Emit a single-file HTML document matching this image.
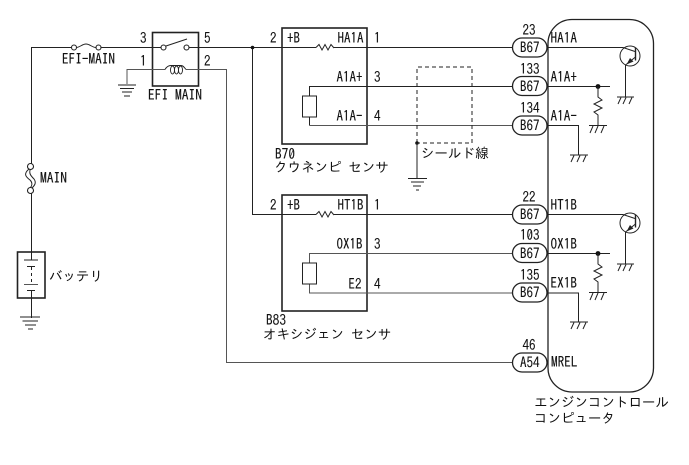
<!DOCTYPE html>
<html><head><meta charset="utf-8"><style>
html,body{margin:0;padding:0;background:#fff}
svg{display:block}
text{font-family:"IPAGothic","Liberation Mono","Noto Sans CJK JP",monospace;font-size:14.5px;fill:#111;stroke:#111;stroke-width:.12}
text.k{font-size:13.5px;stroke-width:0}
.l{stroke:#222;stroke-width:1;fill:none}
.g{stroke:#555;stroke-width:1;fill:none}
.b{stroke:#222;stroke-width:1.6;fill:none}
.c{stroke:#222;stroke-width:1.1;fill:#fff}
.m{text-anchor:middle}
</style></head><body>
<svg width="689" height="465" viewBox="0 0 689 465" xmlns="http://www.w3.org/2000/svg">
<rect width="689" height="465" fill="#fff"/>
<!-- ECU -->
<rect x="548" y="19.500" width="105.500" height="372.500" rx="24" fill="none" stroke="#222" stroke-width="1.300"/>
<!-- main supply -->
<path class="l" d="M31.500 166V47.500H72M100 47.500H161M189 47.500H316M252.500 47.500V214.500H316M334 47.500H512M334 214.500H512M31.500 192V252"/>
<path class="l" d="M76 47.500C80 47.500 82 44 86 44C90 44 92 47.500 96 47.500"/>
<circle cx="74" cy="47.500" r="2.500" class="c"/><circle cx="98.500" cy="47.500" r="2.500" class="c"/>
<text x="62" y="64" textLength="53" lengthAdjust="spacingAndGlyphs">EFI-MAIN</text>
<!-- relay -->
<rect x="152.500" y="32.500" width="46" height="53.500" class="b"/>
<path class="g" d="M127 84V69.500H165M186 69.500H226.500V362.500H512"/>
<path class="l" d="M165 69.500C167 66 169 65.500 171 65.500H181C183 65.500 184 67 186 69.500"/>
<ellipse cx="172.500" cy="70" rx="2" ry="4" fill="none" stroke="#222" stroke-width=".9"/>
<ellipse cx="176.500" cy="70" rx="2" ry="4" fill="none" stroke="#222" stroke-width=".9"/>
<ellipse cx="180.500" cy="70" rx="2" ry="4" fill="none" stroke="#222" stroke-width=".9"/>
<path class="l" d="M166 46L187 39"/>
<circle cx="163.500" cy="47.500" r="2.500" class="c"/><circle cx="186.500" cy="47.500" r="2.500" class="c"/>
<path class="l" d="M118 85H136M120 88.500H134M122 92H132M124 96H130"/>
<text x="140" y="43" textLength="6.500" lengthAdjust="spacingAndGlyphs">3</text><text x="204" y="43" textLength="6.500" lengthAdjust="spacingAndGlyphs">5</text><text x="140" y="66" textLength="6.500" lengthAdjust="spacingAndGlyphs">1</text><text x="204" y="66" textLength="6.500" lengthAdjust="spacingAndGlyphs">2</text>
<text x="148" y="100" textLength="54" lengthAdjust="spacingAndGlyphs">EFI MAIN</text>
<circle cx="252.500" cy="47.500" r="1.800" fill="#111"/>
<!-- main fuse -->
<path d="M29 169C23 174 26 177 30 180C33 183 32 186 30 188" stroke="#222" stroke-width="1" fill="none"/>
<path d="M31 168C28 173 31 176 34 179C37 183 34 186 32 188" stroke="#222" stroke-width="1" fill="none"/>
<circle cx="30.500" cy="166.500" r="3" class="c"/><circle cx="30.500" cy="190.500" r="3" class="c"/>
<text x="40" y="183" textLength="27" lengthAdjust="spacingAndGlyphs">MAIN</text>
<!-- battery -->
<rect x="17.500" y="252" width="27.500" height="46" class="b"/>
<path class="l" d="M31.500 252V260M24 260H38M27 266.500H35M31.500 290V318M27 290.500H35M20 317H40M22.500 321H38M25 325H36M28 329H33"/>
<path class="l" d="M31.500 267V284" stroke-dasharray="3 3"/>
<path class="g" d="M24 284.500H38"/>
<text class="k" x="49" y="281">バッテリ</text>
<!-- B70 -->
<rect x="282" y="28" width="85" height="116" class="b"/>
<path class="l" d="M316 47.500L319 44.500L322 50L325 44.500L328 50L331 44.500L334 48" stroke-width=".9"/>
<path class="l" d="M309.500 96V86.500H512M309.500 117V125.500"/>
<path class="g" d="M309.500 125.500H512"/>
<rect x="302.500" y="96" width="14" height="21" class="l"/>
<text x="270" y="43" textLength="6.500" lengthAdjust="spacingAndGlyphs">2</text><text x="287" y="43" textLength="13" lengthAdjust="spacingAndGlyphs">+B</text>
<text x="337.500" y="43" textLength="26" lengthAdjust="spacingAndGlyphs">HA1A</text><text x="374" y="43" textLength="6.500" lengthAdjust="spacingAndGlyphs">1</text>
<text x="336.500" y="82" textLength="26" lengthAdjust="spacingAndGlyphs">A1A+</text><text x="374" y="82" textLength="6.500" lengthAdjust="spacingAndGlyphs">3</text>
<text x="336.500" y="121" textLength="26" lengthAdjust="spacingAndGlyphs">A1A-</text><text x="374" y="121" textLength="6.500" lengthAdjust="spacingAndGlyphs">4</text>
<text x="275" y="159" textLength="20" lengthAdjust="spacingAndGlyphs">B70</text>
<text class="k" x="274" y="172">クウネンピ センサ</text>
<path d="M417 143V67H472V143H417" class="l" stroke-dasharray="4 3"/>
<circle cx="417" cy="143" r="1.800" fill="#111"/>
<path class="l" d="M417 143V178M408 178.500H427M411 182H424M413 186H421M416 190H419"/>
<text class="k" x="421" y="158">シールド線</text>
<!-- B83 -->
<rect x="282" y="195" width="85" height="116" class="b"/>
<path class="l" d="M316 214.500L319 211.500L322 217L325 211.500L328 217L331 211.500L334 215" stroke-width=".9"/>
<path class="g" d="M309.500 263V253.500H512M309.500 284V293H512"/>
<rect x="302.500" y="263" width="14" height="21" class="l"/>
<text x="270" y="210" textLength="6.500" lengthAdjust="spacingAndGlyphs">2</text><text x="287" y="210" textLength="13" lengthAdjust="spacingAndGlyphs">+B</text>
<text x="337.500" y="210" textLength="26" lengthAdjust="spacingAndGlyphs">HT1B</text><text x="374" y="210" textLength="6.500" lengthAdjust="spacingAndGlyphs">1</text>
<text x="336.500" y="249" textLength="26" lengthAdjust="spacingAndGlyphs">OX1B</text><text x="374" y="249" textLength="6.500" lengthAdjust="spacingAndGlyphs">3</text>
<text x="348.500" y="289" textLength="13" lengthAdjust="spacingAndGlyphs">E2</text><text x="374" y="289" textLength="6.500" lengthAdjust="spacingAndGlyphs">4</text>
<text x="266" y="325" textLength="20" lengthAdjust="spacingAndGlyphs">B83</text>
<text class="k" x="263" y="339">オキシジェン センサ</text>
<!-- pills -->
<g>
<rect x="512.500" y="38" width="34.500" height="19" rx="9.500" class="c" style="stroke-width:1.300"/>
<rect x="512.500" y="76.500" width="34.500" height="19" rx="9.500" class="c" style="stroke-width:1.300"/>
<rect x="512.500" y="116" width="34.500" height="19" rx="9.500" class="c" style="stroke-width:1.300"/>
<rect x="512.500" y="205" width="34.500" height="19" rx="9.500" class="c" style="stroke-width:1.300"/>
<rect x="512.500" y="243.500" width="34.500" height="19" rx="9.500" class="c" style="stroke-width:1.300"/>
<rect x="512.500" y="283" width="34.500" height="19" rx="9.500" class="c" style="stroke-width:1.300"/>
<rect x="512.500" y="353" width="34.500" height="19" rx="9.500" class="c" style="stroke-width:1.300"/>
</g>
<text x="520" y="52.500" textLength="19.500" lengthAdjust="spacingAndGlyphs">B67</text><text x="520" y="91.500" textLength="19.500" lengthAdjust="spacingAndGlyphs">B67</text><text x="520" y="130.500" textLength="19.500" lengthAdjust="spacingAndGlyphs">B67</text>
<text x="520" y="219.500" textLength="19.500" lengthAdjust="spacingAndGlyphs">B67</text><text x="520" y="258.500" textLength="19.500" lengthAdjust="spacingAndGlyphs">B67</text><text x="520" y="297.500" textLength="19.500" lengthAdjust="spacingAndGlyphs">B67</text><text x="520" y="367.500" textLength="19.500" lengthAdjust="spacingAndGlyphs">A54</text>
<text x="522.500" y="35" textLength="13" lengthAdjust="spacingAndGlyphs">23</text><text x="520" y="74" textLength="19.500" lengthAdjust="spacingAndGlyphs">133</text><text x="520" y="113" textLength="19.500" lengthAdjust="spacingAndGlyphs">134</text>
<text x="522.500" y="202" textLength="13" lengthAdjust="spacingAndGlyphs">22</text><text x="520" y="240" textLength="19.500" lengthAdjust="spacingAndGlyphs">103</text><text x="520" y="280" textLength="19.500" lengthAdjust="spacingAndGlyphs">135</text><text x="522.500" y="350" textLength="13" lengthAdjust="spacingAndGlyphs">46</text>
<!-- ECU labels -->
<text x="550.500" y="43" textLength="26.500" lengthAdjust="spacingAndGlyphs">HA1A</text><text x="550.500" y="82" textLength="26.500" lengthAdjust="spacingAndGlyphs">A1A+</text><text x="550.500" y="121" textLength="26.500" lengthAdjust="spacingAndGlyphs">A1A-</text>
<text x="550.500" y="210" textLength="26.500" lengthAdjust="spacingAndGlyphs">HT1B</text><text x="550.500" y="249" textLength="26.500" lengthAdjust="spacingAndGlyphs">OX1B</text><text x="550.500" y="288" textLength="26.500" lengthAdjust="spacingAndGlyphs">EX1B</text><text x="551" y="367" textLength="26.500" lengthAdjust="spacingAndGlyphs">MREL</text>
<!-- ECU top circuits -->
<path class="l" d="M547 47.500H623L635 51.500M547 86.500H610M625.500 65V97M547 125.500H578.500V155"/>
<circle cx="630" cy="56" r="10" class="l"/>
<path d="M635.500 47.500V60.500" stroke="#222" stroke-width="1.400"/>
<path class="l" d="M635.500 57L625.500 65"/>
<path d="M626.500 64.500L633.500 61.500L630 58Z" fill="#222"/>
<circle cx="598" cy="86.500" r="2.400" fill="#111"/>
<path class="l" d="M598 86.500V97L602 100L594 104L602 108L594 112L598 115V125"/>
<path class="l" d="M589 125.500H607M593 126L590 133M598 126L595 133M604 126L601 133M617 97H634M621 97.500L618 104M626 97.500L623 104M632 97.500L629 104M570 155H588M574 155.500L571 162M580 155.500L577 162M586 155.500L583 162"/>
<!-- ECU bottom circuits -->
<path class="l" d="M547 214.500H623L635 218.500M547 253.500H610M625.500 232V264M547 293H578.500V322"/>
<circle cx="630" cy="223" r="10" class="l"/>
<path d="M635.500 214.500V227.500" stroke="#222" stroke-width="1.400"/>
<path class="l" d="M635.500 224L625.500 232"/>
<path d="M626.500 231.500L633.500 228.500L630 225Z" fill="#222"/>
<circle cx="598" cy="253.500" r="2.400" fill="#111"/>
<path class="l" d="M598 253.500V264L602 267L594 271L602 275L594 279L598 282V292"/>
<path class="l" d="M589 292.500H607M593 293L590 300M598 293L595 300M604 293L601 300M617 264H634M621 264.500L618 271M626 264.500L623 271M632 264.500L629 271M570 322H588M574 322.500L571 329M580 322.500L577 329M586 322.500L583 329"/>
<text class="k" x="534" y="407">エンジンコントロール</text>
<text class="k" x="534" y="423">コンピュータ</text>
</svg>
</body></html>
